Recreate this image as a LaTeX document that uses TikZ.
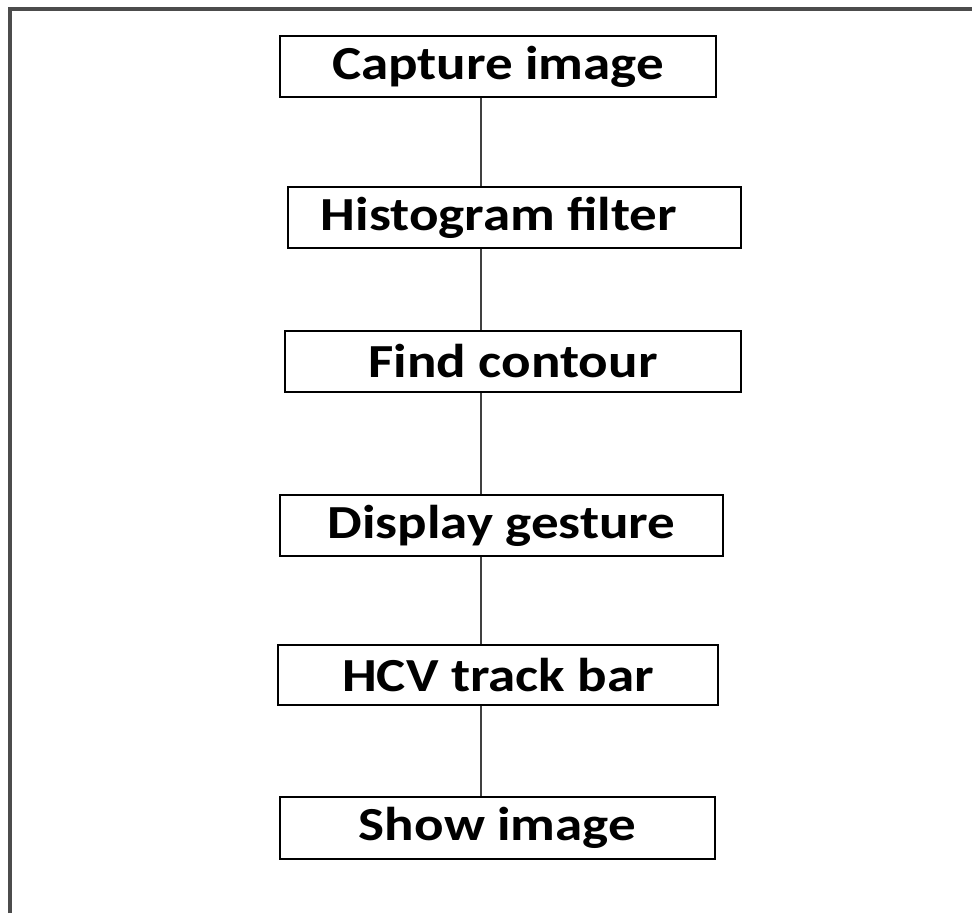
\documentclass[tikz,border=0pt]{standalone}
\usepackage{fontspec}
\setmainfont{Carlito}[FakeStretch=1.16]
\begin{document}
\begin{tikzpicture}[x=0.02cm,y=-0.02cm,
    stepbox/.style={draw,line width=1.1pt,minimum height=1.22cm,inner sep=0pt,
      font=\fontsize{27}{30}\selectfont\bfseries},
    link/.style={line width=0.8pt,black!75}]
        \useasboundingbox (0,0) rectangle (972,913);
        \draw[line width=1.8pt,black!70] (10,913) -- (10,9) -- (972,9);
        \coordinate (spine) at (481,0);
        \node[stepbox,minimum width=8.72cm] (capture) at (498,66.5) {Capture image};
        \node[stepbox,minimum width=9.06cm] (histo) at (514.5,217.5) {Histogram filter\rule{0.62cm}{0pt}};
        \node[stepbox,minimum width=9.12cm] (contour) at (513,361.5) {Find contour};
        \node[stepbox,minimum width=8.86cm] (gesture) at (501.5,525.5) {Display gesture};
        \node[stepbox,minimum width=8.80cm,minimum height=1.20cm] (trackbar) at (498,675) {HCV track bar};
        \node[stepbox,minimum width=8.70cm,minimum height=1.24cm] (show) at (497.5,828) {Show image};
        \draw[link] (capture.south -| spine) -- (histo.north -| spine);
        \draw[link] (histo.south -| spine) -- (contour.north -| spine);
        \draw[link] (contour.south -| spine) -- (gesture.north -| spine);
        \draw[link] (gesture.south -| spine) -- (trackbar.north -| spine);
        \draw[link] (trackbar.south -| spine) -- (show.north -| spine);
\end{tikzpicture}
\end{document}
